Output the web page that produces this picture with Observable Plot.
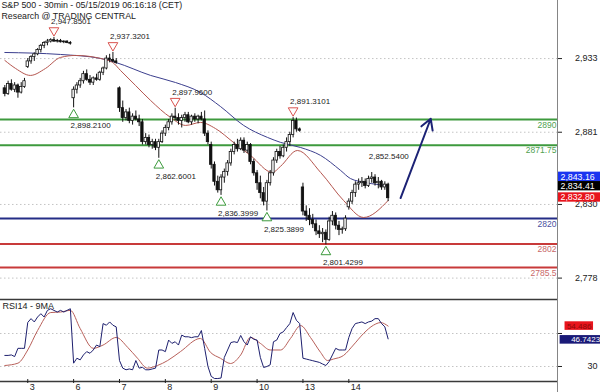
<!DOCTYPE html>
<html><head><meta charset="utf-8">
<script src="https://cdn.jsdelivr.net/npm/d3@7"></script>
<script src="https://cdn.jsdelivr.net/npm/@observablehq/plot@0.6"></script>
<style>
body{margin:0;background:#fff;}
#wrap{position:relative;width:600px;height:392px;overflow:hidden;font-family:"Liberation Sans",Arial,sans-serif;}
#wrap svg{display:block;}
#vline{position:absolute;left:557px;top:0;width:1px;height:392px;background:#858585;}
</style></head><body><div id="wrap"></div>
<script>
// ---------- data ----------
const titleText = "S&P 500 - 30min - 05/15/2019 06:16:18 (CET)";
const sourceText = "Research @ TRADING CENTRAL";
const dayLabels = ["3","6","7","8","9","10","13","14"];
const dayStart = [7,21,35,49,63,77,91,105];

const open = [2912,2908,2915,2911,2914,2909,2913,
2927,2931,2934,2936,2939,2942,2944,2945,2946,2945,2945.5,2944.5,2945,2944,
2905,2911,2914,2917,2922,2918,2916,2919,2918,2923,2926,2933,2932,2931,
2912,2898,2891,2895,2889,2892,2890,2888,2874,2877,2872,2874,2870,2874,
2880,2884,2888,2892,2891,2889,2891,2893,2888,2892,2890,2892,2890,2880,
2872,2858,2846,2840,2849,2853,2859,2867,2872,2869,2875,2868,2872,2860,
2852,2845,2838,2832,2845,2852,2861,2867,2864,2870,2874,2879,2889,2883,
2842,2825,2822,2819,2816,2811,2809,2810,2805,2818,2822,2815,2812,2812.5,
2828,2832,2838,2844,2845,2846,2843,2848,2849,2845,2846,2842,2844];
const high = [2914,2917,2918,2916,2915,2916,2919,
2933,2935,2937,2940,2943,2945,2946.5,2947,2947.85,2946.5,2946.5,2945.5,2945.5,2945,
2913,2916,2919,2924,2925,2921,2920,2922,2924,2927,2935,2936,2937.32,2933,
2913,2903,2897,2898,2894,2896,2893,2890,2880,2879,2876,2876,2876,2882,
2886,2890,2894,2897.96,2894,2893,2895,2895,2893,2894,2893,2895,2896,2882,
2874,2860,2850,2851,2855,2861,2869,2874,2876,2877,2877,2874,2873,2862,
2854,2850,2842,2847,2854,2863,2869,2871,2872,2877,2881,2891.31,2891,2884,
2845,2829,2827,2823,2819,2815,2813,2812,2821,2825,2824,2818,2814,2822,
2834,2840,2846,2848,2849,2848,2850,2852.54,2851,2849,2847,2846,2845];
const low = [2906,2907,2910,2909,2905,2908,2912,
2926,2929,2931,2935,2937,2940,2942,2944,2944.5,2944,2944,2943.5,2943.5,2942.5,
2898.21,2908,2912,2915,2917,2914,2914,2917,2917,2921,2925,2930,2930,2929,
2895,2888,2889,2887,2886,2889,2885,2872,2872,2870,2869,2868,2862.6,2873,
2878,2882,2886,2889,2886,2884,2888,2887,2886,2888,2887,2889,2878,2872,
2855,2843,2838,2836.4,2845,2850,2857,2865,2867,2868,2866,2866,2858,2850,
2840,2834,2829,2825.39,2843,2850,2859,2862,2863,2867,2871,2877,2881,2881,
2822,2818,2815,2813,2808,2806,2803,2801.43,2804,2815,2812,2808,2809,2811,
2826,2830,2835,2840,2842,2841,2842,2845,2843,2841,2840,2840,2832];
const close = [2908,2915,2911,2914,2909,2913,2917,
2931,2934,2936,2939,2942,2944,2945,2946,2945,2945.5,2944.5,2945,2944,2943.5,
2911,2914,2917,2922,2918,2916,2919,2918,2923,2926,2933,2932,2931,2930,
2898,2891,2895,2889,2892,2890,2888,2874,2877,2872,2874,2870,2874,2880,
2884,2888,2892,2891,2889,2891,2893,2888,2892,2890,2892,2890,2880,2874,
2858,2846,2840,2849,2853,2859,2867,2872,2869,2875,2868,2872,2860,2852,
2845,2838,2832,2845,2852,2861,2867,2864,2870,2874,2879,2889,2883,2882,
2825,2822,2819,2816,2811,2809,2810,2805,2818,2822,2815,2812,2812.5,2820,
2832,2838,2844,2845,2846,2843,2848,2849,2845,2846,2842,2844,2834.41];

// moving averages on price (read at key points)
const maBlueIdx = [0,17,29.2,33.8,44.5,52.1,59.7,65.8,72.9,80.2,84.2,90.3,96.4,102.5,105.5,110.1,117];
const maBlueVal = [2937.3,2935.9,2933.1,2930.3,2921.1,2916.1,2909.1,2899.2,2885.8,2877.3,2873.8,2870.2,2864.6,2854,2848.3,2845.5,2843.16];
const maRedIdx = [0,3.3,7.8,12.4,17,21.6,29.2,32.9,35.3,39.9,44.5,50.6,55.2,59.7,64.3,69.8,75,81.7,84.1,89.3,96.4,103.4,109.5,117];
const maRedVal = [2931.7,2926,2921.1,2926,2933.8,2935.2,2933.1,2930.3,2924.6,2914,2903.4,2891.4,2885.8,2887.9,2883.6,2873.8,2864.6,2852.6,2856.8,2868.1,2852.6,2832.8,2820.8,2832.8];

// horizontal levels
const levelValues = [2890, 2871.75, 2820, 2802, 2785.5];
const levelLabels = ["2890", "2871.75", "2820", "2802", "2785.5"];
const levelColors = ["#3e9a3e", "#3e9a3e", "#242d86", "#c83a3a", "#c83a3a"];
const levelTextColors = ["#4f9f4f", "#4f9f4f", "#4a4f9e", "#c86868", "#c86868"];

// swing highs / lows
const hiIdx = [15, 33, 52, 88, 112];
const hiVal = [2947.85, 2937.32, 2897.96, 2891.31, 2852.54];
const hiLabel = ["2,947.8501", "2,937.3201", "2,897.9600", "2,891.3101", "2,852.5400"];
const hiMarker = [true, true, true, true, false];
const loIdx = [21, 47, 66, 80, 98];
const loVal = [2898.21, 2862.60, 2836.40, 2825.39, 2801.43];
const loLabel = ["2,898.2100", "2,862.6001", "2,836.3999", "2,825.3899", "2,801.4299"];

// forecast arrow
const arrowIdx = [120.8, 130];
const arrowVal = [2834.5, 2890.5];

const priceTicks = [2778, 2830, 2881, 2933];
const tagValues = [2843.16, 2834.41, 2832.80];
const tagTexts = ["2,843.16", "2,834.41", "2,832.80"];

// RSI 14 and its 9-period MA
const rsi = [36.7,36.7,37,36,41,41,41,
56.7,59,57,60,62,60,64,65,64,63,64,63,64,65,
32,35,34,37,39,38,40,43,42,56,55,57,55,54,
33.6,29,28,28.5,28,33.6,29,29.5,28,28,28.5,29,40,40,
39,46,44,45,43,49,48,48,47.5,48,48,51.8,41,30,
24,22.7,22.7,23,35.5,40,44.5,45,44.5,48.8,45,43,48,46.5,
46,35.5,29.4,30,31,45,46,50,51,53.6,56,62.7,58,56,
35,34.5,34,33.5,33,32.5,31.5,30.6,33,37,41,40,40,40,
47.6,53,56,56.5,57,56,57,57.5,59,59,56,54,46.7423];
const rsiMaIdx = [0,4,7,10,14,17,20,23,27,30,34,37.5,40.5,43.5,46.6,49.7,53.6,59.7,62.8,65.8,68.9,72,75,78,81,84.2,87.2,90.3,93.3,96.4,98.5,100.3,103.4,106.4,109.5,112.5,114.7,117];
const rsiMaVal = [30.6,32,40,51.8,62.7,63,64,53,41,43,47.6,41.6,35,29,30.6,33.6,39,47,38.5,35,31.8,37,47.6,44,40,40,47,54.8,47.6,38.5,33.6,34.5,36.7,43,50,55,56.6,54.486];
const rsiTicks = [30, 50];
const rsiTickLabels = ["30", ""];   // the 50 label is covered by the value tags
const rsiTagTexts = ["54.486", "46.7423"];

// ---------- build ----------
const xDomain = [-1.32, 168.7];
const xMax = xDomain[1];
const font = "Liberation Sans, Arial, sans-serif";
const bars = close.map((c, i) => ({i, o: open[i], h: high[i], l: low[i], c}));
const blueMA = maBlueIdx.map((i, k) => ({i, v: maBlueVal[k]}));
const redMA = maRedIdx.map((i, k) => ({i, v: maRedVal[k]}));
const highs = hiIdx.map((i, k) => ({i, v: hiVal[k], label: hiLabel[k], marker: hiMarker[k]}));
const lows = loIdx.map((i, k) => ({i, v: loVal[k], label: loLabel[k]}));
const arrow = [{x1: arrowIdx[0], y1: arrowVal[0], x2: arrowIdx[1], y2: arrowVal[1]}];
const fmt = d3.format(",");

const tagSpec = [
  {v: tagValues[2], t: tagTexts[2], fill: "#e8141c", shift: -3},
  {v: tagValues[1], t: tagTexts[1], fill: "#000000", shift: -12},
  {v: tagValues[0], t: tagTexts[0], fill: "#1b35f0", shift: -9}
];

const main = Plot.plot({
  width: 600, height: 298,
  marginTop: 0, marginBottom: 0, marginLeft: 0, marginRight: 43,
  x: {domain: xDomain, axis: null, label: null},
  y: {domain: [2763.6, 2974.0], axis: null, label: null},
  style: {fontFamily: font, fontSize: "9px", color: "#222", background: "transparent", overflow: "visible"},
  marks: [
    Plot.ruleY(priceTicks, {stroke: "#c4c4c4", strokeDasharray: "1.5 2.5"}),
    Plot.axisY({anchor: "right", label: null, ticks: priceTicks, tickFormat: fmt, tickSize: 4, tickPadding: 36, textAnchor: "end", fontSize: 9}),
    ...levelValues.map((v, k) => Plot.ruleY([v], {stroke: levelColors[k], strokeWidth: 2})),
    ...levelValues.map((v, k) => Plot.text([levelLabels[k]], {y: [v], text: d => d, frameAnchor: "right", textAnchor: "end", lineAnchor: "top", dx: -1, dy: 2, fill: levelTextColors[k], fontSize: 8.5})),
    Plot.line(blueMA, {x: "i", y: "v", stroke: "#3c3f8e", strokeWidth: 1, curve: "monotone-x"}),
    Plot.line(redMA, {x: "i", y: "v", stroke: "#b5564f", strokeWidth: 1, curve: "monotone-x"}),
    Plot.ruleX(bars, {x: "i", y1: "l", y2: "h", stroke: "#111", strokeWidth: 1}),
    Plot.rect(bars, {filter: d => d.c >= d.o, x1: d => d.i - 0.36, x2: d => d.i + 0.36, y1: "o", y2: "c", fill: "#fff", stroke: "#111", strokeWidth: 0.8}),
    Plot.rect(bars, {filter: d => d.c < d.o, x1: d => d.i - 0.36, x2: d => d.i + 0.36, y1: "o", y2: "c", fill: "#111", stroke: "#111", strokeWidth: 0.8}),
    Plot.dot(highs.filter(d => d.marker), {x: "i", y: "v", symbol: "triangle", r: 3.6, rotate: 180, dy: -7, stroke: "#d9534f", fill: "#fff", strokeWidth: 1}),
    Plot.text(highs, {x: "i", y: "v", text: "label", dy: -16, dx: -3, textAnchor: "start", fontSize: 8, fill: "#222"}),
    Plot.dot(lows, {x: "i", y: "v", symbol: "triangle", r: 3.6, dy: 7, stroke: "#3c9a3c", fill: "#fff", strokeWidth: 1}),
    Plot.text(lows, {x: "i", y: "v", text: "label", dy: 18, dx: -3, textAnchor: "start", fontSize: 8, fill: "#222"}),
    Plot.arrow(arrow, {x1: "x1", y1: "y1", x2: "x2", y2: "y2", stroke: "#1c2275", strokeWidth: 2, headLength: 9}),
    Plot.text([titleText], {frameAnchor: "top-left", text: d => d, lineAnchor: "top", dx: 1, dy: 1, fontSize: 8.8, fill: "#222"}),
    Plot.text([sourceText], {frameAnchor: "top-left", text: d => d, lineAnchor: "top", dx: 1, dy: 12, fontSize: 8.8, fill: "#222"}),
    ...tagSpec.map(s => Plot.rect([s], {x1: xMax, x2: xMax + 13.2, y1: d => d.v - 3.3, y2: d => d.v + 3.3, dy: s.shift, fill: s.fill})),
    ...tagSpec.map(s => Plot.text([s], {x: xMax, y: "v", text: "t", dy: s.shift, dx: 3, textAnchor: "start", fill: "#fff", fontSize: 8.8}))
  ]
});

const rsiData = rsi.map((v, i) => ({i, v}));
const rsiMA = rsiMaIdx.map((i, k) => ({i, v: rsiMaVal[k]}));
const days = dayStart.map((i, k) => ({i, label: dayLabels[k]}));
const rsiYDomain = [20.9, 70.6];

const lower = Plot.plot({
  width: 600, height: 94,
  marginTop: 1, marginBottom: 11, marginLeft: 0, marginRight: 43,
  x: {domain: xDomain, axis: null, label: null},
  y: {domain: rsiYDomain, axis: null, label: null},
  style: {fontFamily: font, fontSize: "9px", color: "#222", background: "transparent", overflow: "visible"},
  marks: [
    Plot.ruleY(rsiTicks, {stroke: "#c4c4c4", strokeDasharray: "1.5 2.5"}),
    Plot.ruleY(rsiYDomain, {stroke: "#3a3a3a", strokeWidth: 1.3}),
    Plot.axisY({anchor: "right", label: null, ticks: rsiTicks, tickFormat: d => rsiTickLabels[rsiTicks.indexOf(d)], tickSize: 4, tickPadding: 36, textAnchor: "end", fontSize: 9}),
    Plot.line(rsiMA, {x: "i", y: "v", stroke: "#b8605a", strokeWidth: 1, curve: "monotone-x"}),
    Plot.line(rsiData, {x: "i", y: "v", stroke: "#1d1f6e", strokeWidth: 1}),
    Plot.text(["RSI14 - 9MA"], {frameAnchor: "top-left", text: d => d, lineAnchor: "top", dx: 2, dy: 3, fontSize: 9, fill: "#222"}),
    Plot.axisX({anchor: "bottom", label: null, ticks: dayStart, tickSize: 4, tickFormat: () => "", dy: -2}),
    Plot.text(days, {x: "i", text: "label", frameAnchor: "bottom", lineAnchor: "top", textAnchor: "start", dx: 2, dy: 2, fontSize: 9, fill: "#222"}),
    Plot.rect([{v: rsiMaVal[rsiMaVal.length - 1]}], {x1: xMax + 2.3, x2: xMax + 11, y1: d => d.v - 2.6, y2: d => d.v + 2.6, fill: "#e8141c"}),
    Plot.text([{v: rsiMaVal[rsiMaVal.length - 1], t: rsiTagTexts[0]}], {x: xMax + 6.6, y: "v", text: "t", fill: "#8a0a0a", fontSize: 8}),
    Plot.rect([{v: rsi[rsi.length - 1]}], {x1: xMax + 0.8, x2: xMax + 13.2, y1: d => d.v - 2.6, y2: d => d.v + 2.6, dy: 1, fill: "#1a1a78"}),
    Plot.text([{v: rsi[rsi.length - 1], t: rsiTagTexts[1]}], {x: xMax + 13, y: "v", text: "t", dy: 1, textAnchor: "end", fill: "#fff", fontSize: 8})
  ]
});

const wrap = document.getElementById("wrap");
wrap.appendChild(main);
wrap.appendChild(lower);
const vl = document.createElement("div");
vl.id = "vline";
wrap.appendChild(vl);
</script></body></html>
